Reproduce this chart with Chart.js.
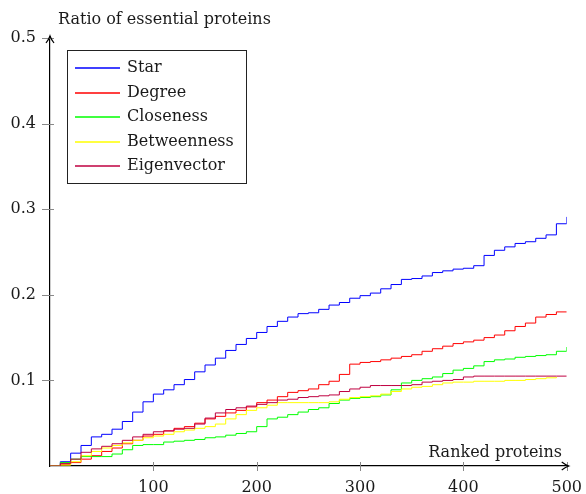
<!DOCTYPE html>
<html>
<head>
<meta charset="utf-8">
<script src="https://cdn.jsdelivr.net/npm/chart.js@4/dist/chart.umd.min.js"></script>
<style>
  html, body { margin: 0; padding: 0; background: #fff; }
  #wrap { width: 586px; height: 494px; }
</style>
</head>
<body>
<div id="wrap"><canvas id="chart" width="586" height="494"></canvas></div>
<script>
// x positions of the sampled curve points (ranked proteins)
const ranks = [0,10,20,30,40,50,60,70,80,90,100,110,120,130,140,150,160,170,180,190,200,
  210,220,230,240,250,260,270,280,290,300,310,320,330,340,350,360,370,380,390,400,
  410,420,430,440,450,460,470,480,490,500];

const star = [0,0.005,0.015,0.024,0.034,0.037,0.043,0.052,0.063,0.075,0.084,0.089,0.095,0.101,0.110,0.118,0.126,0.135,0.142,0.149,0.156,
  0.163,0.169,0.174,0.178,0.179,0.183,0.188,0.191,0.196,0.199,0.202,0.207,0.212,0.218,0.219,0.222,0.226,0.228,0.230,0.231,
  0.234,0.246,0.252,0.256,0.260,0.262,0.266,0.270,0.283,0.291];

const degree = [0,0.002,0.004,0.008,0.012,0.017,0.021,0.026,0.030,0.035,0.037,0.041,0.044,0.046,0.050,0.055,0.058,0.062,0.065,0.069,0.074,
  0.077,0.081,0.086,0.088,0.090,0.095,0.099,0.107,0.119,0.121,0.122,0.124,0.126,0.128,0.130,0.134,0.137,0.140,0.143,0.145,
  0.147,0.150,0.153,0.158,0.163,0.167,0.174,0.177,0.180,0.180];

const closeness = [0,0.004,0.008,0.011,0.011,0.011,0.014,0.019,0.024,0.025,0.025,0.028,0.029,0.030,0.031,0.033,0.034,0.036,0.038,0.040,0.046,
  0.055,0.057,0.060,0.063,0.066,0.068,0.073,0.077,0.079,0.080,0.081,0.083,0.089,0.097,0.100,0.102,0.104,0.108,0.112,0.114,
  0.117,0.122,0.124,0.125,0.127,0.128,0.129,0.130,0.134,0.139];

const betweenness = [0,0.001,0.005,0.012,0.017,0.021,0.024,0.027,0.030,0.033,0.035,0.037,0.040,0.042,0.044,0.046,0.049,0.055,0.060,0.065,0.068,
  0.071,0.074,0.074,0.074,0.074,0.074,0.075,0.078,0.080,0.081,0.082,0.084,0.087,0.090,0.092,0.093,0.095,0.097,0.098,0.098,
  0.099,0.099,0.099,0.100,0.100,0.101,0.102,0.103,0.104,null];

const eigenvector = [0,0.003,0.008,0.016,0.020,0.023,0.026,0.030,0.034,0.037,0.040,0.041,0.043,0.044,0.049,0.056,0.062,0.066,0.068,0.070,0.072,
  0.074,0.077,0.078,0.080,0.081,0.082,0.083,0.087,0.090,0.092,0.094,0.094,0.094,0.094,0.095,0.098,0.099,0.100,0.101,0.104,
  0.105,0.105,0.105,0.105,0.105,0.105,0.105,0.105,0.105,0.105];

const seriesNames = ['Star', 'Degree', 'Closeness', 'Betweenness', 'Eigenvector'];
const seriesData = [star, degree, closeness, betweenness, eigenvector];
const seriesColors = ['#0000ff', '#ff0000', '#00ff00', '#ffff00', '#bf0040'];

const xTicks = [100, 200, 300, 400, 500];
const yTicks = [0.1, 0.2, 0.3, 0.4, 0.5];

const FONT = '"DejaVu Serif", "Liberation Serif", serif';
const FONT_SIZE = 16;

// axis arrows, centered tick marks, axis titles and the boxed legend
const decorPlugin = {
    id: 'decor',
    afterDraw(chart) {
        const ctx = chart.ctx;
        const xs = chart.scales.x;
        const ys = chart.scales.y;
        const area = chart.chartArea;
        ctx.save();

        // tick marks crossing the axes
        ctx.strokeStyle = '#888';
        ctx.lineWidth = 1;
        xTicks.forEach(v => {
            const px = Math.round(xs.getPixelForValue(v)) + 0.5;
            ctx.beginPath();
            ctx.moveTo(px, area.bottom - 4);
            ctx.lineTo(px, area.bottom + 5);
            ctx.stroke();
        });
        yTicks.forEach(v => {
            const py = Math.round(ys.getPixelForValue(v)) + 0.5;
            ctx.beginPath();
            ctx.moveTo(area.left - 8, py);
            ctx.lineTo(area.left + 4, py);
            ctx.stroke();
        });

        // arrow heads
        ctx.strokeStyle = '#000';
        ctx.lineWidth = 1.2;
        const ax = area.right + 2, ay = area.bottom;
        ctx.beginPath();
        ctx.moveTo(ax - 7, ay - 4);
        ctx.quadraticCurveTo(ax - 3, ay - 1, ax, ay);
        ctx.quadraticCurveTo(ax - 3, ay + 1, ax - 7, ay + 4);
        ctx.stroke();
        const bx = area.left, by = area.top - 2;
        ctx.beginPath();
        ctx.moveTo(bx - 4, by + 7);
        ctx.quadraticCurveTo(bx - 1, by + 3, bx, by);
        ctx.quadraticCurveTo(bx + 1, by + 3, bx + 4, by + 7);
        ctx.stroke();
        ctx.beginPath();
        ctx.moveTo(area.right, ay);
        ctx.lineTo(ax, ay);
        ctx.moveTo(bx, area.top);
        ctx.lineTo(bx, by);
        ctx.stroke();

        // axis titles
        ctx.fillStyle = '#1a1a1a';
        ctx.font = FONT_SIZE + 'px ' + FONT;
        ctx.textBaseline = 'alphabetic';
        ctx.textAlign = 'left';
        ctx.fillText('Ratio of essential proteins', 58, 24);
        ctx.textAlign = 'right';
        ctx.fillText('Ranked proteins', 562, 457);

        // legend
        const lx = 67.5, ly = 50.5, lw = 179, lh = 133;
        ctx.fillStyle = '#fff';
        ctx.fillRect(lx, ly, lw, lh);
        ctx.strokeStyle = '#222';
        ctx.lineWidth = 1;
        ctx.strokeRect(lx, ly, lw, lh);
        ctx.textAlign = 'left';
        ctx.textBaseline = 'middle';
        seriesNames.forEach((name, i) => {
            const yy = 68 + i * 24.5;
            ctx.strokeStyle = seriesColors[i];
            ctx.lineWidth = 1.3;
            ctx.beginPath();
            ctx.moveTo(75, Math.round(yy));
            ctx.lineTo(120, Math.round(yy));
            ctx.stroke();
            ctx.fillStyle = '#1a1a1a';
            ctx.fillText(name, 127, yy);
        });
        ctx.restore();
    }
};

new Chart(document.getElementById('chart'), {
    type: 'line',
    data: {
        labels: ranks,
        datasets: seriesNames.map((name, i) => ({
            label: name,
            data: ranks.map((r, j) => ({ x: r, y: seriesData[i][j] })),
            borderColor: seriesColors[i],
            backgroundColor: seriesColors[i],
            borderWidth: 1,
            pointRadius: 0,
            stepped: true,
            fill: false,
            spanGaps: false,
            order: seriesNames.length - i
        }))
    },
    options: {
        responsive: false,
        animation: false,
        layout: {
            padding: { top: 38, right: 18, left: 0, bottom: 0 }
        },
        plugins: {
            legend: { display: false },
            tooltip: { enabled: false }
        },
        scales: {
            x: {
                type: 'linear',
                min: 0,
                max: 500,
                afterFit: s => { s.height = 28; },
                afterBuildTicks: s => { s.ticks = xTicks.map(v => ({ value: v })); },
                grid: { display: false },
                border: { display: true, color: '#000', width: 1.2 },
                ticks: {
                    color: '#1a1a1a',
                    padding: 4,
                    font: { family: FONT, size: FONT_SIZE }
                }
            },
            y: {
                min: 0,
                max: 0.5,
                afterFit: s => { s.width = 50; },
                afterBuildTicks: s => { s.ticks = yTicks.map(v => ({ value: v })); },
                grid: { display: false },
                border: { display: true, color: '#000', width: 1.2 },
                ticks: {
                    color: '#1a1a1a',
                    padding: 6,
                    font: { family: FONT, size: FONT_SIZE },
                    callback: v => v.toFixed(1)
                }
            }
        }
    },
    plugins: [decorPlugin]
});
</script>
</body>
</html>
